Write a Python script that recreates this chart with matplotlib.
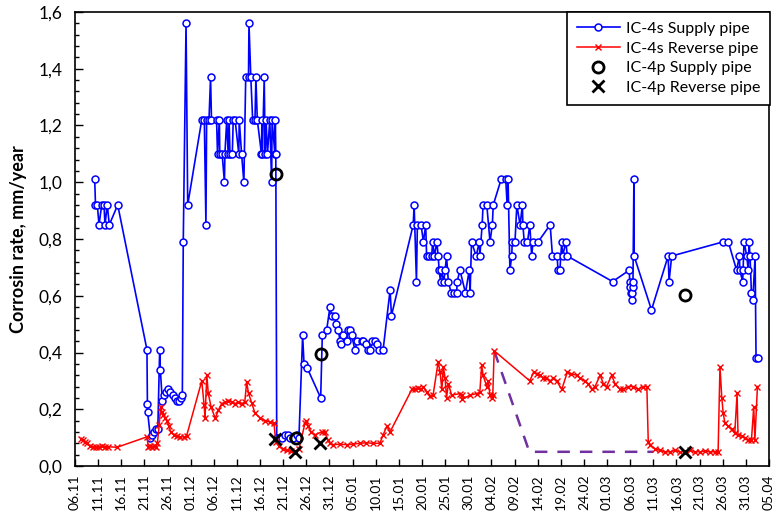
import numpy as np
import matplotlib
matplotlib.use("Agg")
import matplotlib.pyplot as plt
import matplotlib.dates as mdates
from matplotlib.ticker import FuncFormatter, MultipleLocator

plt.rcParams['font.family'] = ['Lato', 'DejaVu Sans']

START = '2021-11-06'

# IC-4s Supply pipe: (days after 06.11, corrosion rate)
supply_days = [4.26, 4.43, 4.82, 5.19, 5.77, 6.27, 6.48, 6.98, 7.41, 9.23,
               15.55, 15.65, 15.7, 16.3, 16.6, 17.0, 17.4, 17.9,
               18.3, 18.44, 18.87, 19.2, 19.6, 20.2, 20.6, 21.1, 21.6, 22.0, 22.4, 22.9, 23.2,
               23.4, 24.0, 24.36,
               27.4, 27.95, 28.3, 28.45, 28.96, 29.3, 29.5, 30.6, 30.8, 31.2, 31.3, 31.8, 32.3, 32.4,
               32.8, 33.1, 33.3, 33.5, 34.0, 34.2, 34.6, 35.4, 35.5, 36.0, 36.5, 36.9, 37.5, 37.6,
               38.0, 38.4, 38.9, 39.1, 39.4, 40.3, 40.4, 40.5, 40.9, 41.1, 41.3, 41.6, 42.1, 42.5,
               42.6, 43.2, 43.3, 43.4,
               43.6, 43.9, 44.7, 45.4, 46.0, 46.5, 47.2, 47.9, 48.4,
               49.2, 49.5, 50.2, 53.1, 53.45, 54.4, 55.1, 55.5, 56.2, 56.4, 56.9, 57.3, 57.4, 58.0,
               58.7, 59.1, 59.4, 59.8, 60.5, 61.0, 62.0, 62.3, 62.9, 63.4, 63.8, 64.2, 64.8, 65.2,
               65.6, 66.6, 68.1, 68.4,
               73.1, 73.3, 73.8, 74.0, 74.8, 75.3, 75.8, 76.0, 76.6, 77.1, 77.3, 77.7, 78.2, 78.5,
               78.7, 79.0, 79.2, 79.7, 80.0, 80.3, 80.7, 81.3, 82.0, 82.5, 82.6, 83.2, 84.4, 85.2,
               85.4, 85.7, 86.7, 87.4, 87.5, 88.0, 88.2, 89.0, 89.7, 90.2, 90.4, 92.1, 93.1, 93.4,
               93.6, 94.0, 94.4, 94.5, 95.1, 95.5, 96.2, 96.7, 96.8, 97.1, 97.8, 98.3, 98.7, 99.0,
               100.1, 102.7, 103.2, 104.2, 104.4, 104.8, 105.2, 105.4, 106.1, 106.4,
               116.2, 119.8, 119.9, 120.0, 120.2, 120.3, 120.4, 120.5, 120.6, 120.8, 120.85,
               124.6, 128.2, 128.4, 128.96,
               140.1, 141.2, 143.0, 143.6, 143.7, 144.3, 144.4, 144.6, 145.2, 145.5, 145.7, 145.9,
               146.2, 146.5, 147.0, 147.2, 147.7]
supply_vals = [1.01, 0.92, 0.92, 0.85, 0.92, 0.92, 0.85, 0.92, 0.85, 0.92,
               0.41, 0.22, 0.19, 0.10, 0.11, 0.12, 0.13, 0.13,
               0.41, 0.34, 0.23, 0.25, 0.26, 0.27, 0.26, 0.25, 0.24, 0.23, 0.23, 0.24, 0.25,
               0.79, 1.56, 0.92,
               1.22, 1.22, 0.85, 1.22, 1.22, 1.37, 1.22, 1.22, 1.10, 1.22, 1.10, 1.10, 1.00, 1.10,
               1.22, 1.10, 1.22, 1.10, 1.10, 1.22, 1.22, 1.10, 1.22, 1.10, 1.00, 1.37, 1.37, 1.56,
               1.37, 1.22, 1.22, 1.37, 1.22, 1.10, 1.22, 1.10, 1.37, 1.10, 1.22, 1.10, 1.22, 1.00,
               1.22, 1.10, 1.22, 1.10,
               0.10, 0.10, 0.10, 0.11, 0.11, 0.10, 0.10, 0.11, 0.10,
               0.46, 0.36, 0.345, 0.24, 0.46, 0.48, 0.56, 0.53, 0.53, 0.50, 0.48, 0.44, 0.43, 0.46,
               0.44, 0.48, 0.48, 0.46, 0.41, 0.44, 0.44, 0.44, 0.43, 0.41, 0.41, 0.44, 0.44, 0.43,
               0.41, 0.41, 0.62, 0.53,
               0.85, 0.92, 0.65, 0.85, 0.85, 0.79, 0.85, 0.74, 0.74, 0.74, 0.79, 0.74, 0.79, 0.74,
               0.69, 0.65, 0.69, 0.65, 0.69, 0.74, 0.65, 0.61, 0.61, 0.61, 0.65, 0.69, 0.61, 0.69,
               0.61, 0.79, 0.74, 0.79, 0.74, 0.85, 0.92, 0.92, 0.79, 0.85, 0.92, 1.01, 1.01, 0.92,
               1.01, 0.69, 0.74, 0.79, 0.79, 0.92, 0.85, 0.92, 0.85, 0.79, 0.79, 0.85, 0.74, 0.79,
               0.79, 0.85, 0.74, 0.74, 0.69, 0.69, 0.79, 0.74, 0.79, 0.74,
               0.65, 0.69, 0.65, 0.63, 0.61, 0.585, 0.61, 0.63, 0.65, 1.01, 0.74,
               0.55, 0.74, 0.65, 0.74,
               0.79, 0.79, 0.69, 0.74, 0.69, 0.65, 0.69, 0.79, 0.74, 0.69, 0.79, 0.74,
               0.61, 0.585, 0.74, 0.38, 0.38]

# IC-4s Reverse pipe
reverse_days = [1.3, 1.7, 2.2, 2.6, 3.2, 3.9, 4.5, 5.2, 5.8, 6.5, 7.1, 9.1,
                15.6, 15.8, 16.2, 16.6, 17.1, 17.5, 17.8, 18.2, 18.5, 18.8, 19.1, 19.5, 19.9,
                20.3, 20.7, 21.4, 22.0, 22.7, 23.6, 24.1,
                27.4, 27.9, 28.1, 28.5, 28.8, 29.4, 30.3, 31.0, 31.7, 32.4, 33.1, 33.9, 34.6,
                35.3, 36.0, 36.7, 37.1, 37.5, 38.2, 38.9, 40.0, 41.1, 42.1, 43.0,
                43.4, 44.1, 45.0, 45.8, 46.7, 47.5, 48.4,
                49.7, 49.9, 50.4, 51.0, 51.9, 53.3, 54.0, 54.7, 55.1, 55.8, 57.3, 58.7, 60.1,
                61.6, 63.0, 64.4, 65.9, 66.6, 67.4, 68.1,
                72.8, 73.5, 74.1, 74.8, 75.3, 76.0, 76.7, 77.4, 78.5, 78.9, 79.3, 79.6, 80.0,
                80.3, 80.7, 81.4, 83.2, 83.6, 83.7, 85.4, 86.8, 87.5, 87.9, 88.2, 89.0, 89.3,
                89.7, 90.1, 90.3, 90.6,
                98.3, 99.1, 99.8, 100.5, 101.2, 101.9, 102.7, 103.4, 104.1, 105.2, 106.4, 107.3,
                108.4, 109.1, 110.2, 110.9, 111.7, 112.4, 113.5, 114.2, 114.9, 116.0, 116.7,
                117.8, 118.5, 119.6, 120.7, 121.7, 122.8, 123.6,
                123.9, 124.3, 125.4, 126.4, 127.5, 128.6, 129.7, 130.8, 131.8, 132.9, 134.0,
                135.1, 136.2, 137.2, 138.3, 139.0,
                139.4, 139.8, 140.1, 140.5, 141.2, 141.9, 142.6, 143.1, 143.3, 144.1, 144.8,
                145.5, 146.2, 146.7, 146.95, 147.5]
reverse_vals = [0.094, 0.09, 0.085, 0.08, 0.07, 0.068, 0.068, 0.068, 0.07, 0.068, 0.068, 0.066,
                0.103, 0.068, 0.07, 0.068, 0.07, 0.068, 0.08, 0.144, 0.209, 0.19, 0.18, 0.17, 0.16,
                0.14, 0.12, 0.11, 0.105, 0.103, 0.103, 0.105,
                0.30, 0.215, 0.17, 0.32, 0.256, 0.209, 0.168, 0.197, 0.22, 0.225, 0.23, 0.225, 0.22,
                0.225, 0.22, 0.225, 0.297, 0.256, 0.222, 0.186, 0.17, 0.16, 0.155, 0.15,
                0.085, 0.07, 0.06, 0.055, 0.052, 0.05, 0.06,
                0.15, 0.16, 0.14, 0.12, 0.11, 0.12, 0.12, 0.09, 0.08, 0.075, 0.077, 0.075, 0.077,
                0.08, 0.082, 0.08, 0.08, 0.11, 0.14, 0.12,
                0.27, 0.27, 0.275, 0.27, 0.28, 0.26, 0.245, 0.25, 0.368, 0.33, 0.27, 0.35, 0.31,
                0.24, 0.29, 0.25, 0.255, 0.25, 0.235, 0.25, 0.255, 0.26, 0.356, 0.32, 0.28, 0.30,
                0.25, 0.24, 0.25, 0.406,
                0.30, 0.33, 0.325, 0.32, 0.31, 0.31, 0.30, 0.31, 0.30, 0.27, 0.33, 0.325,
                0.32, 0.31, 0.30, 0.29, 0.27, 0.28, 0.32, 0.29, 0.28, 0.32, 0.29,
                0.27, 0.27, 0.28, 0.28, 0.27, 0.28, 0.28,
                0.086, 0.075, 0.06, 0.055, 0.05, 0.05, 0.055, 0.05, 0.05, 0.055, 0.05,
                0.05, 0.052, 0.05, 0.05, 0.05,
                0.35, 0.24, 0.186, 0.15, 0.14, 0.13, 0.115, 0.256, 0.11, 0.105, 0.10,
                0.092, 0.09, 0.209, 0.092, 0.28]

# IC-4p Supply pipe / Reverse pipe
p_supply_days = [43.4, 47.8, 53.1, 131.8]
p_supply_vals = [1.03, 0.10, 0.395, 0.603]
p_reverse_days = [43.2, 47.5, 52.95, 131.8]
p_reverse_vals = [0.094, 0.048, 0.082, 0.05]

# purple dashed guide
guide_days = [90.6, 98.2, 125.0]
guide_vals = [0.406, 0.05, 0.05]

t0 = mdates.datestr2num(START)
def to_x(d):
    return t0 + np.asarray(d, dtype=float)

fig = plt.figure(figsize=(7.78, 5.19), dpi=100)
ax = fig.add_axes([75/778, 53/519, 694/778, 454/519])

ax.plot(to_x(supply_days), supply_vals, color='#0000FF', lw=1.2, marker='o',
        ms=5, mfc='white', mec='#0000FF', mew=1.1, label='IC-4s Supply pipe', zorder=3)
ax.plot(to_x(reverse_days), reverse_vals, color='#FF0000', lw=1.1, marker='x',
        ms=4, mec='#FF0000', mew=1.0, label='IC-4s Reverse pipe', zorder=3)
ax.plot(to_x(guide_days), guide_vals, color='#7030A0', lw=1.8, ls=(0, (5, 4)), zorder=2)
ax.plot(to_x(p_supply_days), p_supply_vals, ls='none', marker='o', ms=8, mfc='none',
        mec='black', mew=2, label='IC-4p Supply pipe', zorder=4)
ax.plot(to_x(p_reverse_days), p_reverse_vals, ls='none', marker='x', ms=8,
        mec='black', mew=2, label='IC-4p Reverse pipe', zorder=4)

ax.set_xlim(t0, t0 + 150)
ax.set_ylim(0, 1.6)
ax.set_xticks([t0 + 5 * i for i in range(31)])
ax.xaxis.set_major_formatter(mdates.DateFormatter('%d.%m'))
ax.yaxis.set_major_locator(MultipleLocator(0.2))
ax.yaxis.set_minor_locator(MultipleLocator(0.04))
ax.yaxis.set_major_formatter(FuncFormatter(lambda v, p: f"{v:.1f}".replace('.', ',')))
ax.tick_params(axis='x', direction='in', length=5, width=1, labelsize=10, rotation=90, pad=6)
ax.tick_params(axis='y', which='major', direction='in', length=6, width=1, labelsize=12.5, pad=9)
ax.tick_params(axis='y', which='minor', direction='in', length=3, width=1)
for s in ax.spines.values():
    s.set_linewidth(1.2)
ax.set_ylabel('Corrosin rate, mm/year', fontsize=13, fontweight='bold', labelpad=8)

leg = ax.legend(loc='upper right', bbox_to_anchor=(1.0015, 1.0), borderaxespad=0,
                fancybox=False, edgecolor='black', framealpha=1, fontsize=11.5,
                numpoints=1, handlelength=2.7, handletextpad=0.4, labelspacing=0.35,
                borderpad=0.6)
leg.get_frame().set_linewidth(1.2)

fig.savefig('out.png', dpi=100)
